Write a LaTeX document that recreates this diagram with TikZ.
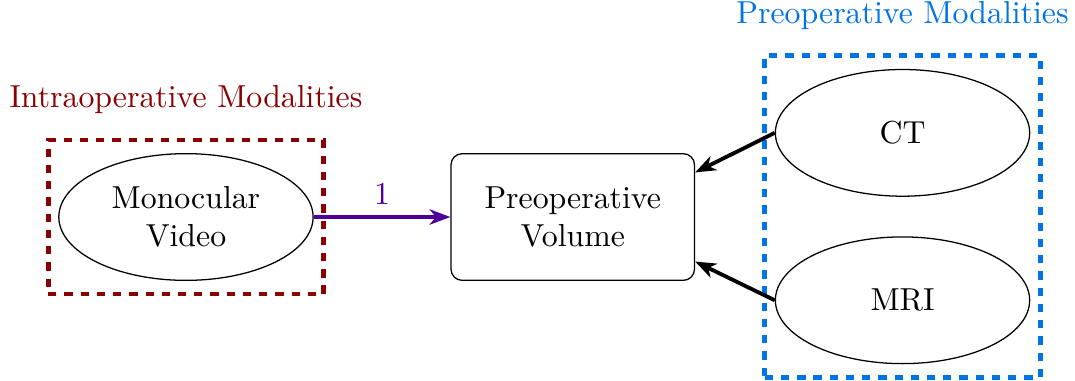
\documentclass[tikz,border=0pt]{standalone}
\usepackage{amsmath}
\usepackage{color}
\usetikzlibrary{positioning}
\usetikzlibrary{fit}
\usetikzlibrary{shapes.geometric}
\usetikzlibrary{arrows.meta}

\definecolor{intrared}{RGB}{139,0,0}
\definecolor{preblue}{RGB}{0,115,230}
\definecolor{linkviolet}{RGB}{76,0,153}

\begin{document}
\begin{tikzpicture}
      [ node distance=1.5cm
        , every node/.style={}
        , modality/.style={ellipse, draw, minimum width=2.81cm, minimum height=1.40cm, inner sep=0pt, align=center}
        , volume/.style={rectangle, draw, rounded corners=3.5pt, minimum width=2.69cm, minimum height=1.40cm, inner sep=0pt, align=center}
        , group/.style={draw, line width=1.5pt, dash pattern=on 2.6pt off 2.5pt, inner xsep=0.11cm, inner ysep=0.144cm}
        , link/.style={-{Stealth[length=2.3mm,width=1.7mm,inset=0.7mm]}, line width=1.2pt}
      ]
      \useasboundingbox (-2.055,-1.812) rectangle (9.824,2.398);

      \node (mono) [modality] at (0,0) {Monocular\\Video};
      \node (vol) [volume, right=1.51cm of mono] {Preoperative\\Volume};
      \node (ct) [modality, right=0.88cm of vol, yshift=0.93cm] {CT};
      \node (mri) [modality, right=0.88cm of vol, yshift=-0.92cm] {MRI};

      % modality groups
      \node (intra) [group, intrared, fit=(mono)] {};
      \node (pre) [group, preblue, fit=(ct) (mri)] {};
      \node (intralabel) [intrared, above=0.14cm of intra] {Intraoperative Modalities};
      \node (prelabel) [preblue, above=0.14cm of pre] {Preoperative Modalities};

      \draw[link, linkviolet] (mono) -- node[above] {1} (vol);
      \draw[link] (ct.west) -- (vol.20);
      \draw[link] (mri.west) -- (vol.-20);

    \end{tikzpicture}
\end{document}
